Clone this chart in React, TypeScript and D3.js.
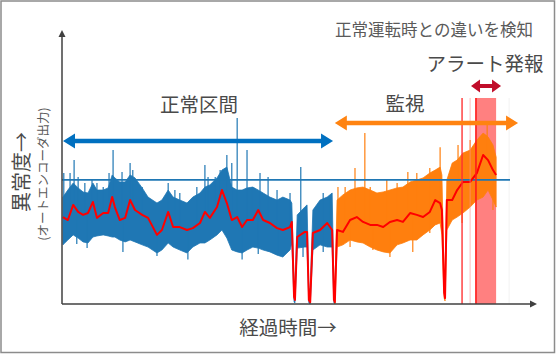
import React from "react";
import * as d3 from "d3";

// elapsed time (arbitrary units) and anomaly score
const times = [
  2, 13, 25, 36, 47, 58, 69, 78, 92, 103, 112, 118, 129, 141, 152, 163, 179, 192, 212, 223,
  237, 248, 263, 279, 292, 308, 319, 330, 346, 357, 368, 379, 391, 402, 413, 426, 438, 449, 464, 480,
  493, 509, 513, 518, 520, 525, 542, 547, 551, 554, 560, 576, 592, 603, 607, 609,
  614, 627, 643, 658, 672, 688, 703, 717, 732, 748, 761, 777, 792, 806, 821, 833, 844, 848, 853, 855,
  859, 871, 882, 895, 911, 926, 940, 951, 962, 969,
];
// moving average (red)
const trend = [
  32.2, 31.1, 36.7, 34.1, 33.0, 33.7, 37.8, 31.9, 33.7, 33.7, 39.6, 35.9, 31.1, 31.9, 38.5, 34.8, 33.0, 31.9, 25.6, 27.4,
  34.1, 28.5, 28.5, 27.4, 28.1, 30.0, 34.1, 31.9, 35.9, 42.2, 37.4, 31.1, 32.2, 28.5, 31.1, 31.1, 34.8, 31.1, 30.0, 28.1,
  27.4, 28.5, 30.4, 2.6, 1.5, 24.8, 26.7, 26.7, 1.5, 0.7, 26.3, 27.4, 30.0, 27.4, 1.5, 0.7,
  27.4, 26.7, 31.1, 32.2, 30.4, 29.3, 29.3, 28.5, 30.4, 31.1, 30.4, 33.7, 33.0, 32.2, 34.1, 38.5, 37.4, 34.8, 4.1, 2.2,
  38.5, 38.5, 42.2, 45.2, 45.2, 48.5, 55.2, 53.3, 49.6, 47.8,
];
// upper and lower edge of the raw output
const bandHi = [
  39.6, 42.2, 44.8, 43.0, 41.5, 41.1, 44.8, 42.2, 42.2, 43.0, 47.8, 46.7, 45.2, 45.2, 47.8, 46.7, 43.0, 39.6, 37.4, 38.5,
  42.2, 39.6, 38.5, 37.4, 39.6, 41.1, 43.3, 44.1, 46.7, 49.6, 50.7, 43.3, 42.2, 42.2, 43.0, 43.3, 42.2, 41.1, 39.6, 38.5,
  39.6, 38.5, 37.4, 7.0, 5.9, 33.0, 35.9, 36.7, 5.9, 5.2, 34.8, 38.5, 39.6, 41.1, 5.9, 5.2,
  38.5, 40.4, 42.2, 43.0, 43.3, 42.2, 41.1, 41.5, 42.2, 43.0, 43.3, 45.2, 45.9, 46.7, 48.5, 49.6, 50.7, 47.8, 8.9, 7.0,
  45.9, 52.2, 53.3, 55.9, 57.0, 60.7, 63.3, 61.9, 58.9, 54.4,
];
const bandLo = [
  21.9, 23.7, 25.6, 24.4, 23.0, 22.6, 24.8, 25.2, 25.6, 25.2, 24.8, 24.8, 23.7, 23.0, 23.7, 23.0, 21.9, 21.1, 18.9, 20.0,
  22.6, 21.1, 20.0, 18.9, 21.1, 22.6, 22.6, 23.7, 25.6, 27.4, 24.4, 20.0, 19.3, 18.9, 20.0, 21.1, 20.7, 20.0, 19.3, 18.1,
  17.4, 20.0, 22.6, 0.7, 0.4, 20.7, 21.1, 21.1, 0.4, 0.0, 20.0, 21.9, 21.1, 21.1, 0.4, 0.0,
  21.1, 21.9, 23.7, 23.0, 22.6, 21.1, 20.0, 19.3, 18.9, 21.9, 22.6, 23.7, 23.7, 25.6, 27.4, 29.3, 30.0, 25.6, 2.2, 1.1,
  27.4, 31.1, 32.2, 33.7, 35.9, 38.5, 39.6, 42.2, 38.5, 35.9,
];
// single-sample spikes
const spikeTimes = [
  4, 18, 27, 36, 51, 67, 78, 92, 105, 114, 134, 152, 158, 179, 237, 252, 263, 301, 319, 326,
  342, 353, 368, 379, 391, 413, 424, 442, 460, 480, 509, 533, 583, 598,
  33, 56, 136, 212, 281, 402, 438, 482, 538, 583,
  616, 632, 654, 676, 688, 725, 748, 772, 792, 821, 844, 884, 911, 949,
  643, 694, 732, 783, 821, 893, 962,
];
const spikeValues = [
  48.5, 48.5, 53.3, 47.0, 44.8, 45.9, 44.8, 43.3, 48.5, 57.0, 48.9, 52.2, 49.6, 43.3, 44.8, 42.2, 41.1, 43.3, 51.5, 47.0,
  47.0, 49.6, 55.2, 52.2, 68.9, 57.0, 43.3, 48.5, 47.0, 42.2, 41.1, 50.7, 41.1, 39.6,
  22.2, 20.7, 19.3, 17.8, 16.5, 16.5, 18.5, 18.5, 17.4, 19.3,
  43.3, 43.3, 50.4, 63.3, 43.3, 45.9, 44.8, 48.9, 48.5, 50.4, 58.1, 58.9, 60.7, 67.0,
  21.1, 20.0, 17.4, 19.3, 26.3, 30.0, 34.8,
];

const normalEnd = 609;
const threshold = 46;
const alertBand = [924, 969];
const alertTop = 76.3;
const alertLines = [893, 911];
const normalSpan = [0, 605];
const monitorSpan = [609, 1018];
const alertSpan = [913, 980];

const W = 556;
const H = 354;
const FONT = "'Noto Sans CJK JP', 'Noto Sans', sans-serif";

function doubleArrow(x1: number, x2: number, y: number, shaft: number, headL: number, headW: number) {
  const s = shaft / 2;
  const h = headW / 2;
  return `M${x1},${y} L${x1 + headL},${y - h} L${x1 + headL},${y - s} L${x2 - headL},${y - s} L${x2 - headL},${y - h} L${x2},${y} L${x2 - headL},${y + h} L${x2 - headL},${y + s} L${x1 + headL},${y + s} L${x1 + headL},${y + h} Z`;
}

export default function App() {
  const x = d3.scaleLinear().domain([0, 1000]).range([62, 510]);
  const y = d3.scaleLinear().domain([0, 100]).range([304, 34]);
  const trendAt = d3.scaleLinear().domain(times).range(trend);

  const idx = times.map((_, i) => i);
  const area = d3
    .area<number>()
    .x((i) => x(times[i]))
    .y0((i) => y(bandLo[i]))
    .y1((i) => y(bandHi[i]));
  const line = d3
    .line<number>()
    .x((i) => x(times[i]))
    .y((i) => y(trend[i]));

  const blueIdx = idx.filter((i) => times[i] <= normalEnd);
  const orangeIdx = idx.filter((i) => times[i] >= normalEnd);

  const x0 = x.range()[0];
  const y0 = y.range()[0];
  const axisColor = "#404040";
  const textColor = "#4a4a4a";

  return (
    <svg width={W} height={H} style={{ position: "absolute", left: 0, top: 0, background: "#fff" }}>
      <rect x={1} y={1} width={W - 2.5} height={H - 2.5} fill="#fff" stroke="#8c8c8c" strokeWidth={1.5} />

      {/* alert window */}
      <rect
        x={x(alertBand[0])}
        y={y(alertTop)}
        width={x(alertBand[1]) - x(alertBand[0])}
        height={y0 - y(alertTop)}
        fill="#ff8080"
      />
      <line x1={x(998)} x2={x(998)} y1={y(alertTop)} y2={y0} stroke="#f2f2f2" strokeWidth={1} />

      {/* raw output */}
      <path d={area(blueIdx) || ""} fill="#1f77b4" stroke="#1f77b4" strokeWidth={0.8} />
      <path d={area(orangeIdx) || ""} fill="#ff7f0e" stroke="#ff7f0e" strokeWidth={0.8} />
      {spikeTimes.map((t, i) => (
        <line
          key={i}
          x1={x(t)}
          x2={x(t)}
          y1={y(trendAt(t))}
          y2={y(spikeValues[i])}
          stroke={t < normalEnd ? "#1f77b4" : "#ff7f0e"}
          strokeWidth={1.2}
        />
      ))}

      {/* threshold */}
      <line x1={x(0)} x2={x(1000)} y1={y(threshold)} y2={y(threshold)} stroke="#1f77b4" strokeWidth={1.8} />

      {/* moving average */}
      <path d={line(idx) || ""} fill="none" stroke="#ff0000" strokeWidth={2} strokeLinejoin="round" />

      {/* alert markers */}
      <line x1={x(alertLines[0])} x2={x(alertLines[0])} y1={y(alertTop)} y2={y0} stroke="#ff3030" strokeWidth={1.6} opacity={0.85} />
      <line x1={x(alertLines[1])} x2={x(alertLines[1])} y1={y(alertTop)} y2={y0} stroke="#ff9090" strokeWidth={1.2} opacity={0.5} />
      <line x1={x(alertBand[0])} x2={x(alertBand[0])} y1={y(alertTop)} y2={y0} stroke="#ff1a1a" strokeWidth={1.6} />

      {/* axes */}
      <line x1={x0} x2={x0} y1={y0} y2={36} stroke={axisColor} strokeWidth={1.5} />
      <path d={`M${x0},30 L${x0 - 3.5},37 L${x0 + 3.5},37 Z`} fill={axisColor} />
      <line x1={x0} x2={530} y1={y0} y2={y0} stroke={axisColor} strokeWidth={1.5} />
      <path d={`M537,${y0} L530,${y0 - 3.5} L530,${y0 + 3.5} Z`} fill={axisColor} />

      {/* section arrows */}
      <path d={doubleArrow(x(normalSpan[0]) + 1, x(normalSpan[1]), 141, 4.5, 12, 15)} fill="#0070c0" />
      <path d={doubleArrow(x(monitorSpan[0]), x(monitorSpan[1]), 123, 4.5, 12, 15)} fill="#ff8310" />
      <path d={doubleArrow(x(alertSpan[0]), x(alertSpan[1]), 86, 4, 9, 13)} fill="#c00d2a" />

      <g fontFamily={FONT} textAnchor="middle" dominantBaseline="central">
        <text x={434} y={29} fontSize={16.5} fill="#5a5a5a">正常運転時との違いを検知</text>
        <text x={485} y={62} fontSize={19.5} fill={textColor}>アラート発報</text>
        <text x={405} y={102} fontSize={19.5} fill={textColor}>監視</text>
        <text x={199} y={103} fontSize={19.5} fill={textColor}>正常区間</text>
        <text x={288} y={326} fontSize={19.5} fill={textColor}>経過時間→</text>
        <text transform="translate(20,172) rotate(-90)" fontSize={20} fill={textColor}>異常度→</text>
        <text transform="translate(42,174) rotate(-90)" fontSize={12.5} fill="#5a5a5a">(オートエンコーダ出力)</text>
      </g>
    </svg>
  );
}
